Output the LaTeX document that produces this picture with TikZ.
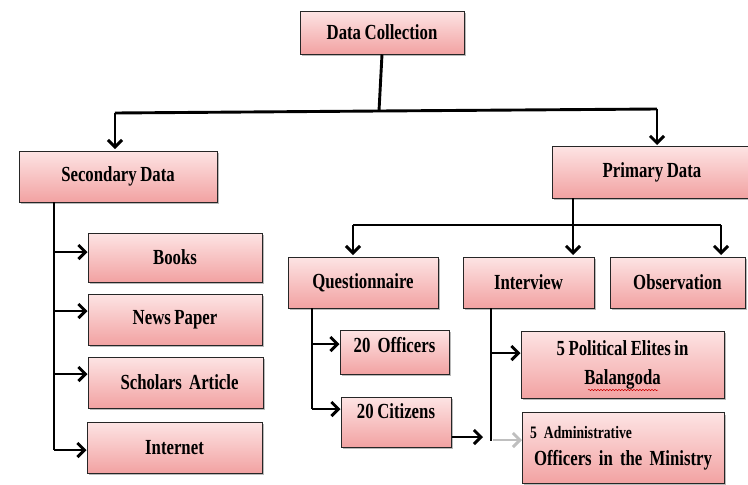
\documentclass[tikz,border=0pt]{standalone}
\usepackage{fontspec}
\setmainfont{Liberation Serif}[FakeStretch=0.78, WordSpace=0.85]
\usetikzlibrary{arrows.meta,shadows,decorations.pathmorphing}
\definecolor{boxtop}{HTML}{FDE4E4}
\definecolor{boxbot}{HTML}{F2A2A2}
\tikzset{
  box/.style={draw=black!85, line width=1pt, top color=boxtop, bottom color=boxbot,
    drop shadow={shadow xshift=2pt, shadow yshift=-2pt, fill=black!60, opacity=0.45},
    font=\bfseries\fontsize{21.5}{25}\selectfont, inner sep=0pt, align=center},
  wire/.style={line width=2.9pt, black},
  arr/.style={wire, -{Straight Barb[length=7pt,width=14pt,line width=2.9pt]}},
}
\newcommand{\bx}[6]{% name, x1, y1, x2, y2, text
  \node[box, minimum width={(#4-#2)*1pt}, minimum height={(#5-#3)*1pt}] (#1) at ({(#2+#4)/2},{(#3+#5)/2}) {#6};}
\begin{document}
\begin{tikzpicture}[x=1pt,y=-1pt]
\useasboundingbox (0,0) rectangle (748,485);
% boxes
\bx{dc}{300}{11}{464}{54}{Data Collection}
\bx{sec}{19}{151}{217}{202}{Secondary Data}
\bx{pri}{552}{146}{752}{198}{Primary Data}
\bx{books}{88}{233}{262}{282}{Books}
\bx{news}{88}{294}{262}{345}{News Paper}
\bx{schol}{88}{357}{263}{408}{\hspace{8pt}Scholars\ \,Article}
\bx{inet}{87}{422}{262}{473}{Internet}
\bx{quest}{288}{257}{438}{308}{Questionnaire}
\bx{inter}{463}{257}{594}{308}{Interview}
\bx{obs}{610}{257}{745}{308}{Observation}
\node[box, minimum width=109pt, minimum height=44pt, text depth=14pt] (off) at (394.5,352) {20\ \ Officers};
\node[box, minimum width=110pt, minimum height=50pt, text depth=22pt] (cit) at (396,422) {20 Citizens};
\node[box, minimum width=203pt, minimum height=67pt] (pol) at (622.5,364.5) {5 Political Elites in\\[4pt]Balangoda};
\node[box, minimum width=202pt, minimum height=71pt, align=left, text width=186pt] (adm) at (623,448) {{\fontsize{17.5}{19}\selectfont 5 Administrative}\\[2pt]\hspace{4pt}Officers in the Ministry};
% spell-check squiggle
\draw[red!80!black, line width=0.5pt, decorate, decoration={snake, amplitude=0.7pt, segment length=3pt}] (588,390) -- (658,390);
% top level connectors
\draw[wire] (dc.south) -- (379,111) coordinate (jtop);
\draw[wire] (115,113) coordinate (jl) -- (jtop) -- (657,109) coordinate (jr);
\draw[arr] (jl) -- (115,149);
\draw[arr] (jr) -- (657,145);
% secondary
\draw[wire] (54,202) -- (54,450) coordinate (sbot);
\draw[arr] (54,252) -- (books.west |- 0,252);
\draw[arr] (54,311) -- (news.west |- 0,311);
\draw[arr] (54,374) -- (schol.west |- 0,374);
\draw[arr] (sbot) -- (inet.west |- 0,450);
% primary
\draw[wire] (573,198) -- (573,225) coordinate (pj);
\draw[wire] (353,225) coordinate (pq) -- (721,225) coordinate (po);
\draw[arr] (pq) -- (353,255);
\draw[arr] (pj) -- (573,255);
\draw[arr] (po) -- (721,255);
% questionnaire
\draw[wire] (312,308) -- (312,409) coordinate (qb);
\draw[arr] (312,344) -- (off.west |- 0,344);
\draw[arr] (qb) -- (cit.west |- 0,409);
% interview
\draw[wire] (491,308) -- (491,441);
\draw[arr] (491,353) -- (pol.west |- 0,353);
\draw[arr] (cit.east |- 0,437) -- (483,437);
\draw[line width=2.9pt, black!25, -{Straight Barb[length=7pt,width=14pt,line width=2.9pt]}] (493,440) -- (522,440);
\end{tikzpicture}
\end{document}
